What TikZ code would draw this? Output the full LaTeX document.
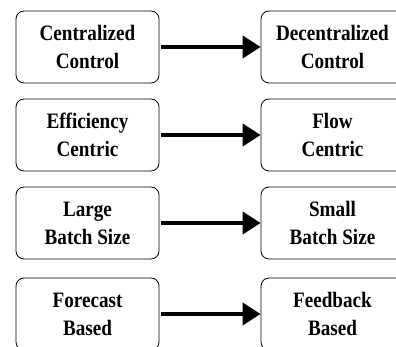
\documentclass[tikz,border=0pt]{standalone}
\usepackage{fontspec}
\setmainfont{Liberation Serif}[FakeStretch=0.87]
\usetikzlibrary{arrows.meta}
\begin{document}
\begin{tikzpicture}[x=1pt,y=-1pt,
  modebox/.style={draw, rounded corners=8pt, line width=0.8pt, minimum width=143pt, minimum height=72pt,
    align=center, font=\fontsize{22}{28}\selectfont\bfseries},
  shiftarrow/.style={line width=4pt, shorten <=2pt, -{Triangle[length=18pt,width=22pt]}}]
\useasboundingbox (0,0) rectangle (396,347);
\node[modebox] (cc) at (87.5,47) {Centralized\\Control};
\node[modebox] (dc) at (332.5,47) {Decentralized\\Control};
\node[modebox] (ec) at (87.5,135) {Efficiency\\Centric};
\node[modebox] (fc) at (332.5,135) {Flow\\Centric};
\node[modebox] (lb) at (87.5,223) {Large\\Batch Size};
\node[modebox] (sb) at (332.5,223) {Small\\Batch Size};
\node[modebox] (fb) at (87.5,314) {Forecast\\Based};
\node[modebox] (bb) at (332.5,314) {Feedback\\Based};
\draw[shiftarrow] (cc.east) -- (dc.west);
\draw[shiftarrow] (ec.east) -- (fc.west);
\draw[shiftarrow] (lb.east) -- (sb.west);
\draw[shiftarrow] (fb.east) -- (bb.west);
\end{tikzpicture}
\end{document}
